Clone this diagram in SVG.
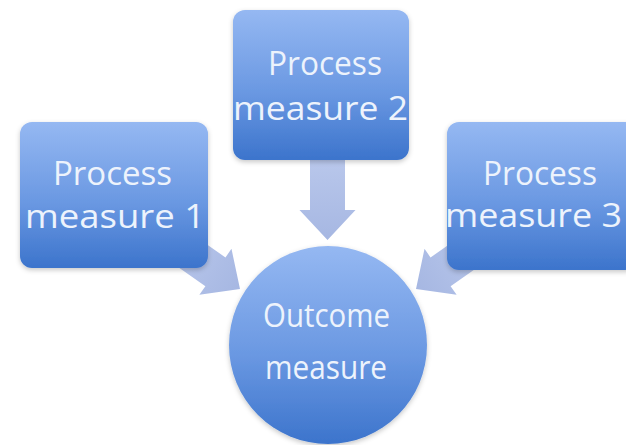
<svg xmlns="http://www.w3.org/2000/svg" width="626" height="445" viewBox="0 0 626 445">
  <defs>
    <linearGradient id="gBox" x1="0" y1="0" x2="0" y2="1">
      <stop offset="0" stop-color="#95b8f2"/>
      <stop offset="0.55" stop-color="#6a98e2"/>
      <stop offset="1" stop-color="#3c74cc"/>
    </linearGradient>
    <linearGradient id="gArrow" x1="0" y1="0" x2="1" y2="0">
      <stop offset="0" stop-color="#c2cff0"/>
      <stop offset="1" stop-color="#a6b7e2"/>
    </linearGradient>
    <filter id="sh" x="-10%" y="-10%" width="120%" height="125%">
      <feDropShadow dx="0" dy="2" stdDeviation="2.5" flood-color="#000" flood-opacity="0.22"/>
    </filter>
    <path id="arrowShape" d="M-120,-17.5 L-30,-17.5 L-30,-28 L0,0 L-30,28 L-30,17.5 L-120,17.5 Z"/>
  </defs>
  <style>
    .box { fill: url(#gBox); filter: url(#sh); }
    .arrow { fill: url(#gArrow); }
    .lbl { font-family: "Open Sans", "DejaVu Sans", sans-serif; font-size: 33px; fill: #edf3fc; text-anchor: middle; }
  </style>
  <rect width="626" height="445" fill="#ffffff"/>

  <g id="connectors">
    <use href="#arrowShape" class="arrow" transform="translate(240,289) rotate(35)"/>
    <use href="#arrowShape" class="arrow" transform="translate(327.5,240) rotate(90)"/>
    <use href="#arrowShape" class="arrow" transform="translate(416,289) rotate(145)"/>
  </g>

  <g id="process1">
    <rect class="box" x="20" y="122" width="188" height="146" rx="12"/>
    <text class="lbl" x="112.5" y="185" textLength="119" lengthAdjust="spacingAndGlyphs">Process</text>
    <text class="lbl" x="115" y="228" textLength="180" lengthAdjust="spacingAndGlyphs">measure 1</text>
  </g>

  <g id="process2">
    <rect class="box" x="233" y="10" width="176" height="150" rx="12"/>
    <text class="lbl" x="325" y="75" textLength="114" lengthAdjust="spacingAndGlyphs">Process</text>
    <text class="lbl" x="320.5" y="120" textLength="175" lengthAdjust="spacingAndGlyphs">measure 2</text>
  </g>

  <g id="process3">
    <rect class="box" x="447" y="122" width="190" height="148" rx="12"/>
    <text class="lbl" x="540" y="185" textLength="114" lengthAdjust="spacingAndGlyphs">Process</text>
    <text class="lbl" x="533.5" y="227" textLength="177" lengthAdjust="spacingAndGlyphs">measure 3</text>
  </g>

  <g id="outcome">
    <circle class="box" cx="328" cy="345" r="99"/>
    <text class="lbl" x="326.5" y="327" textLength="127" lengthAdjust="spacingAndGlyphs">Outcome</text>
    <text class="lbl" x="326" y="379" textLength="122" lengthAdjust="spacingAndGlyphs">measure</text>
  </g>
</svg>
